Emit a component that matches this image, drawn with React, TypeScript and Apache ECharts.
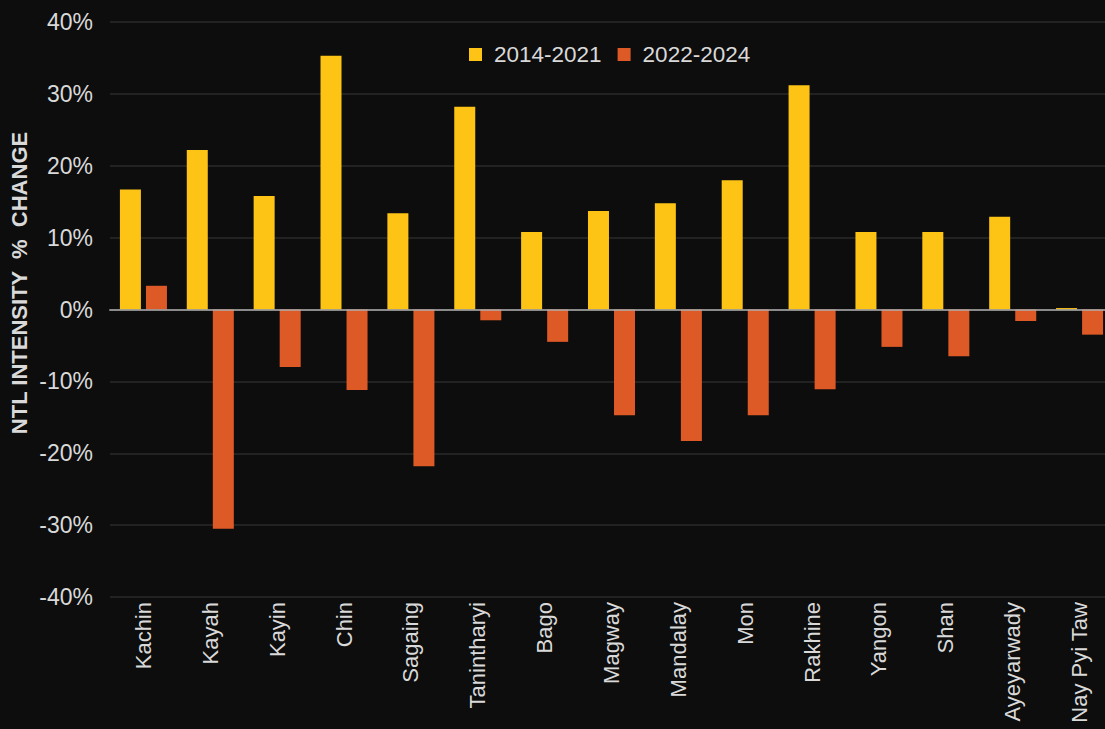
import React, { useEffect, useRef } from "react";
import * as echarts from "echarts";

const categories = [
  "Kachin", "Kayah", "Kayin", "Chin", "Sagaing", "Tanintharyi", "Bago", "Magway",
  "Mandalay", "Mon", "Rakhine", "Yangon", "Shan", "Ayeyarwady", "Nay Pyi Taw",
];
const seriesNames = ["2014-2021", "2022-2024"];
const change2014to2021 = [16.7, 22.2, 15.8, 35.3, 13.4, 28.2, 10.8, 13.7, 14.8, 18.0, 31.2, 10.8, 10.8, 12.9, 0.2];
const change2022to2024 = [3.3, -30.5, -8.0, -11.2, -21.8, -1.5, -4.5, -14.7, -18.3, -14.7, -11.1, -5.2, -6.5, -1.6, -3.5];
const yAxisTitle = "NTL INTENSITY  %  CHANGE";

const FONT = "'Liberation Sans', Arial, Helvetica, sans-serif";

export default function App() {
  const ref = useRef<HTMLDivElement>(null);
  useEffect(() => {
    if (!ref.current) return;
    const chart = echarts.init(ref.current, null, { renderer: "svg" });
    chart.setOption({
      animation: false,
      backgroundColor: "#0d0d0d",
      textStyle: { fontFamily: FONT },
      legend: {
        left: 464,
        top: 38,
        icon: "rect",
        itemWidth: 13,
        itemHeight: 13,
        itemGap: 16,
        data: seriesNames,
        textStyle: { color: "#d9d9d9", fontSize: 22.5, fontFamily: FONT, padding: [0, 0, 0, 7] },
      },
      grid: { left: 110, top: 22, width: 1003, height: 575, containLabel: false, outerBoundsMode: "none" },
      xAxis: {
        type: "category",
        data: categories,
        z: 5,
        axisLine: { onZero: true, lineStyle: { color: "rgba(175,175,175,0.75)", width: 2 } },
        axisTick: { show: false },
        axisLabel: {
          rotate: 90,
          color: "#d9d9d9",
          fontSize: 22,
          fontFamily: FONT,
          margin: 5,
          interval: 0,
        },
        splitLine: { show: false },
      },
      yAxis: {
        type: "value",
        min: -40,
        max: 40,
        interval: 10,
        axisLine: { show: false },
        axisTick: { show: false },
        axisLabel: {
          formatter: "{value}%",
          color: "#d9d9d9",
          fontSize: 23,
          fontFamily: FONT,
          margin: 17,
        },
        splitLine: { lineStyle: { color: "#2a2a2a", width: 1.5 } },
      },
      graphic: [
        {
          type: "text",
          x: 19,
          y: 283,
          rotation: Math.PI / 2,
          style: {
            text: yAxisTitle,
            fill: "#d9d9d9",
            font: `bold 22px ${FONT}`,
            textAlign: "center",
            textVerticalAlign: "middle",
          },
        },
      ],
      series: [
        {
          name: seriesNames[0],
          type: "bar",
          data: change2014to2021,
          barWidth: 21,
          barGap: "24%",
          itemStyle: { color: "#FEC415" },
        },
        {
          name: seriesNames[1],
          type: "bar",
          data: change2022to2024,
          barWidth: 21,
          barGap: "24%",
          itemStyle: { color: "#DD5A27" },
        },
      ],
    });
    return () => chart.dispose();
  }, []);
  return (
    <div
      ref={ref}
      style={{ position: "fixed", left: 0, top: 0, width: 1105, height: 729, background: "#0d0d0d" }}
    />
  );
}
